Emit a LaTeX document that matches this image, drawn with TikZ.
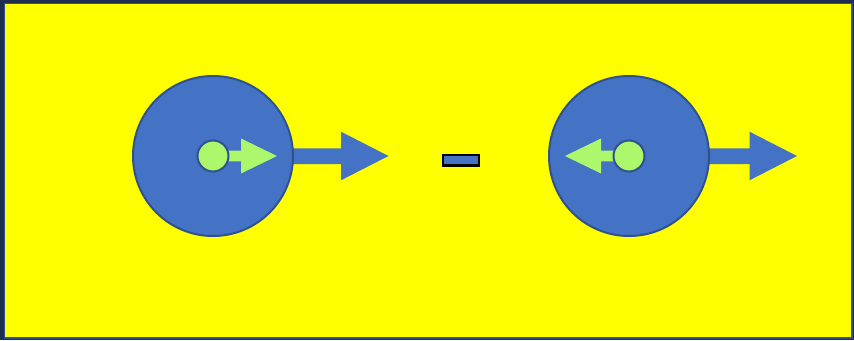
\documentclass[tikz,border=0pt]{standalone}
\begin{document}
\begin{tikzpicture}[x=1pt,y=-1pt]
\definecolor{bgyellow}{HTML}{FFFF00}
\definecolor{fillblue}{HTML}{4472C4}
\definecolor{lineblue}{HTML}{2F528F}
\definecolor{framedark}{HTML}{1F2D4E}
\definecolor{lightgreen}{HTML}{ADF76C}
\tikzset{
  bigdisc/.style={circle,minimum size=160pt,inner sep=0pt,fill=fillblue,draw=lineblue,line width=2pt},
  smalldisc/.style={circle,minimum size=31pt,inner sep=0pt,fill=lightgreen,draw=lineblue,line width=2pt},
  bluearrow/.style={fill=fillblue,draw=none},
  greenarrow/.style={fill=lightgreen,draw=none},
}
\useasboundingbox (0,0) rectangle (854,340);
\fill[framedark] (0,0) rectangle (854,340);
\filldraw[fill=bgyellow,draw=lineblue,line width=1.5pt] (4.5,3.5) rectangle (852,338);
% left group
\fill[bluearrow] (213,148.3) -- (341,148.3) -- (341,131.7) -- (388.5,156) -- (341,180.3) -- (341,164) -- (213,164) -- cycle;
\node[bigdisc] (c1) at (213,156) {};
\fill[greenarrow] (213,150.7) -- (241,150.7) -- (241,138.5) -- (277,156) -- (241,173.5) -- (241,161.3) -- (213,161.3) -- cycle;
\node[smalldisc] (g1) at (213,156) {};
% middle bar
\node[draw=black,fill=fillblue,line width=2.2pt,minimum width=36pt,minimum height=10.5pt,inner sep=0pt] (bar) at (461,160.3) {};
% right group
\fill[bluearrow] (629,148.3) -- (749.5,148.3) -- (749.5,131.7) -- (797,156) -- (749.5,180.3) -- (749.5,164) -- (629,164) -- cycle;
\node[bigdisc] (c2) at (629,156) {};
\fill[greenarrow] (629,150.7) -- (601,150.7) -- (601,138.5) -- (565,156) -- (601,173.5) -- (601,161.3) -- (629,161.3) -- cycle;
\node[smalldisc] (g2) at (629,156) {};
\end{tikzpicture}
\end{document}
